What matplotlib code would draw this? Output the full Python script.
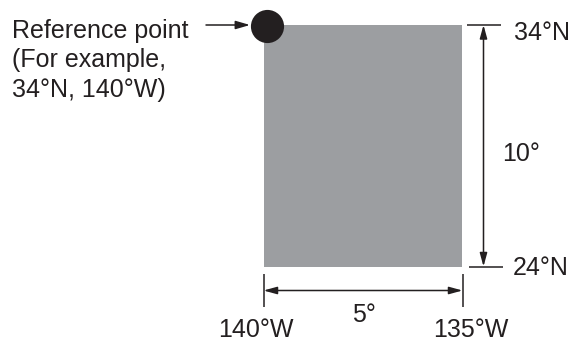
import matplotlib
matplotlib.use("Agg")
import matplotlib.pyplot as plt
from matplotlib.patches import Rectangle
import matplotlib.transforms as mtransforms

# ---- data ----
lon_west = [140, 135]          # western / eastern edge of the box (°W)
lat_north = [24, 34]           # southern / northern edge of the box (°N)
ref_point = (140, 34)          # reference point (°W, °N)
lon_labels = ["140°W", "135°W"]
lat_labels = ["24°N", "34°N"]
span_labels = ["5°", "10°"]
ref_label = "Reference point\n(For example,\n34°N, 140°W)"

plt.rcParams["font.family"] = ["Liberation Sans", "DejaVu Sans"]

INK = "#231f20"
GRAY = "#9c9ea1"
W, H = 574, 342
fig = plt.figure(figsize=(W / 100, H / 100), dpi=100)
ax = fig.add_axes([0, 0, 1, 1])
ax.axis("off")

x0, x1 = -lon_west[0], -lon_west[1]
y0, y1 = lat_north

# calibration of the drawing area (pixels of box edges)
px_x0, px_x1 = 263.5, 462.5
px_y1, px_y0 = 25.0, 266.5
sx = (px_x1 - px_x0) / (x1 - x0)
sy = (px_y0 - px_y1) / (y1 - y0)
ax.set_xlim(x0 - px_x0 / sx, x1 + (W - px_x1) / sx)
ax.set_ylim(y0 - (H - px_y0) / sy, y1 + px_y1 / sy)


def P(px, py):
    """pixel position -> data coordinates (layout helper)"""
    return (x0 + (px - px_x0) / sx, y1 - (py - px_y1) / sy)


# box
ax.add_patch(Rectangle((x0, y0), x1 - x0, y1 - y0, facecolor=GRAY,
                       edgecolor="none", zorder=1))

# reference point
off = mtransforms.ScaledTranslation(2.5 / 72, -0.4 / 72, fig.dpi_scale_trans)
ax.scatter([-ref_point[0]], [ref_point[1]], s=570, color=INK, zorder=3,
           linewidths=0, transform=ax.transData + off)

# arrow from label to the reference point
ax.annotate("", xy=P(250, 25), xytext=P(206, 25),
            arrowprops=dict(arrowstyle="-|>,head_length=0.86,head_width=0.25",
                            mutation_scale=10, lw=1.1, color=INK,
                            shrinkA=0, shrinkB=0))
# multi-line text: 'baseline' anchors the last line
ax.text(*P(12, 97), ref_label, ha="left", va="baseline", fontsize=18,
        color=INK, linespacing=1.3)

lw = 1.1
# right-side latitude markers
ax.plot([x1 + 4.5 / sx, x1 + 38.5 / sx], [y1, y1], color=INK, lw=lw,
        solid_capstyle="butt")
ax.plot([x1 + 6 / sx, x1 + 40 / sx], [y0, y0], color=INK, lw=lw,
        solid_capstyle="butt")
xa = x1 + 21 / sx
ax.annotate("", xy=(xa, y1), xytext=(xa, y0),
            arrowprops=dict(arrowstyle="<|-|>,head_length=0.8,head_width=0.22",
                            mutation_scale=10, lw=lw, color=INK,
                            shrinkA=0, shrinkB=0))

# bottom longitude markers
for xv in (x0, x1):
    ax.plot([xv, xv], [y0 - 7 / sy, y0 - 40 / sy], color=INK, lw=lw,
            solid_capstyle="butt")
ya = y0 - 24 / sy
ax.annotate("", xy=(x0, ya), xytext=(x1, ya),
            arrowprops=dict(arrowstyle="<|-|>,head_length=0.8,head_width=0.22",
                            mutation_scale=10, lw=lw, color=INK,
                            shrinkA=0, shrinkB=0))

fs = 18
ax.text(*P(514, 40), lat_labels[1], ha="left", va="baseline", fontsize=fs, color=INK)
ax.text(*P(513, 275), lat_labels[0], ha="left", va="baseline", fontsize=fs, color=INK)
ax.text(*P(502, 161), span_labels[1], ha="left", va="baseline", fontsize=fs, color=INK)
ax.text(*P(364, 322), span_labels[0], ha="center", va="baseline", fontsize=fs, color=INK)
ax.text(*P(218, 337), lon_labels[0], ha="left", va="baseline", fontsize=fs, color=INK)
ax.text(*P(433, 337), lon_labels[1], ha="left", va="baseline", fontsize=fs, color=INK)

fig.savefig("out.png", dpi=100)
